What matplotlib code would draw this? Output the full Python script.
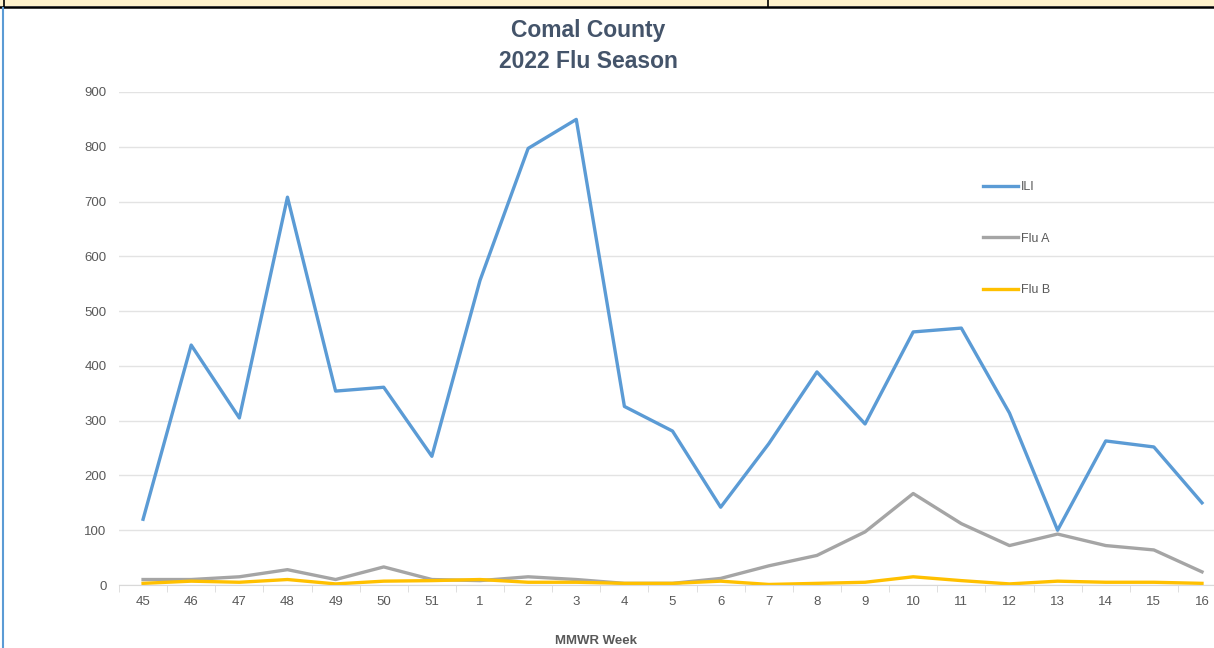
import numpy as np
import matplotlib
matplotlib.use('Agg')
import matplotlib.pyplot as plt
from matplotlib.lines import Line2D
from matplotlib.patches import Rectangle

weeks = ['45', '46', '47', '48', '49', '50', '51', '1', '2', '3', '4', '5',
         '6', '7', '8', '9', '10', '11', '12', '13', '14', '15', '16']
ili = [120, 438, 305, 708, 354, 361, 235, 556, 797, 850, 326, 281,
       142, 258, 389, 294, 462, 469, 314, 100, 263, 252, 150]
flu_a = [10, 10, 15, 28, 10, 33, 10, 8, 15, 10, 3, 3,
         12, 35, 54, 97, 167, 112, 72, 93, 72, 64, 24]
flu_b = [3, 7, 5, 10, 2, 7, 8, 10, 5, 5, 3, 3,
         7, 1, 3, 5, 15, 8, 2, 7, 5, 5, 3]

plt.rcParams['font.family'] = ['Liberation Sans', 'DejaVu Sans']

fig = plt.figure(figsize=(12.14, 6.48), dpi=100)
ax = fig.add_axes([119 / 1214, 1 - 585 / 648, 1 - 119 / 1214, (585 - 92) / 648])

x = np.arange(len(weeks))
ax.plot(x, ili, color='#5B9BD5', lw=2.4, label='ILI', solid_joinstyle='round')
ax.plot(x, flu_a, color='#A5A5A5', lw=2.4, label='Flu A', solid_joinstyle='round')
ax.plot(x, flu_b, color='#FFC000', lw=2.4, label='Flu B', solid_joinstyle='round')

ax.set_yticks(range(0, 901, 100))
ax.set_xticks(x)
ax.set_xticklabels(weeks)
ax.set_xticks(np.arange(-0.5, 23, 1), minor=True)
# limits after ticks, otherwise set_xticks widens the view
ax.set_ylim(0, 900)
ax.set_xlim(-0.5, 22 + 12 / 48.1)
ax.tick_params(axis='x', which='major', length=0, pad=8, labelsize=9.5, colors='#595959')
ax.tick_params(axis='x', which='minor', length=5, color='#D9D9D9')
ax.tick_params(axis='y', length=0, pad=9, labelsize=9.5, colors='#595959')
ax.yaxis.grid(True, color='#E3E3E3', lw=1)
ax.set_axisbelow(True)
for s in ['top', 'right', 'left']:
    ax.spines[s].set_visible(False)
ax.spines['bottom'].set_color('#D9D9D9')

fig.text(596 / 1214, 1 - 641 / 648, 'MMWR Week', ha='center', va='center',
         fontsize=9.5, fontweight='bold', color='#595959')
fig.text(588 / 1214, 1 - 31 / 648, 'Comal County', ha='center', va='center',
         fontsize=16.5, fontweight='bold', color='#44546A')
fig.text(588 / 1214, 1 - 62 / 648, '2022 Flu Season', ha='center', va='center',
         fontsize=16.5, fontweight='bold', color='#44546A')

leg = ax.legend(loc='upper left', bbox_to_anchor=(972 / 1214, 1 - 170 / 648),
                bbox_transform=fig.transFigure, frameon=False, fontsize=9,
                handlelength=2.8, handletextpad=0.2, labelspacing=3.15)
for t in leg.get_texts():
    t.set_color('#595959')

# table border above the chart
fig.patches.append(Rectangle((0, 1 - 6 / 648), 1, 6 / 648, transform=fig.transFigure,
                             facecolor='#FFF2CC', edgecolor='none', zorder=0))
fig.lines.append(Line2D([0, 1], [1 - 7 / 648, 1 - 7 / 648], transform=fig.transFigure,
                        color='black', lw=1.8))
fig.lines.append(Line2D([768 / 1214, 768 / 1214], [1 - 7 / 648, 1], transform=fig.transFigure,
                        color='black', lw=1.2))
fig.lines.append(Line2D([4 / 1214, 4 / 1214], [1 - 7 / 648, 1], transform=fig.transFigure,
                        color='black', lw=1.2))
fig.lines.append(Line2D([3 / 1214, 3 / 1214], [0, 1 - 8 / 648], transform=fig.transFigure,
                        color='#5B9BD5', lw=1.5))

fig.savefig('out.png', dpi=100)
